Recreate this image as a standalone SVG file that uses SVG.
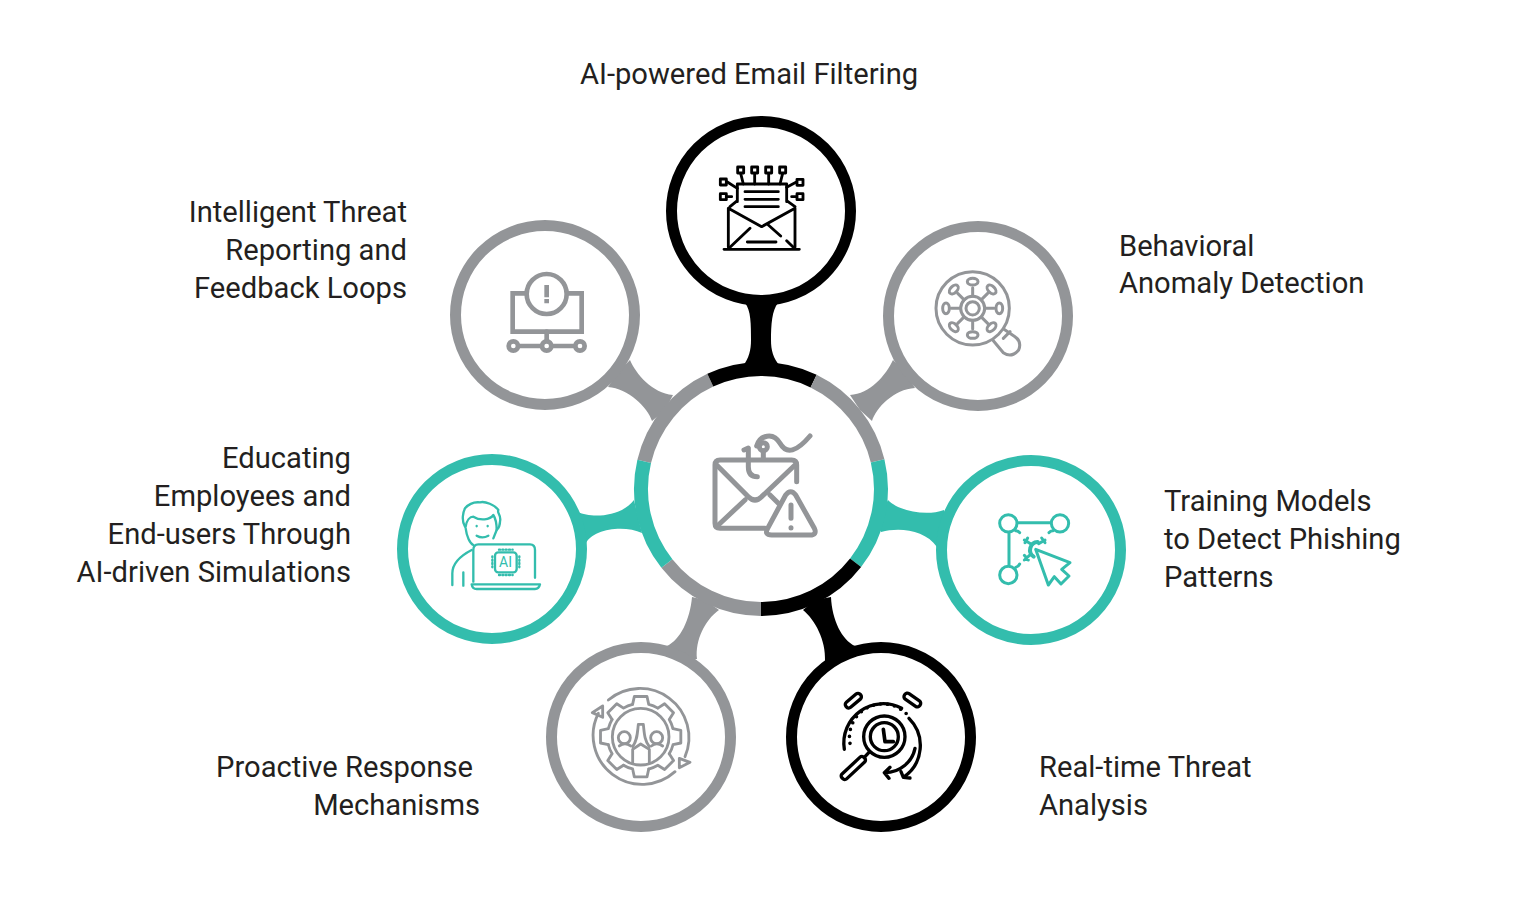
<svg xmlns="http://www.w3.org/2000/svg" xmlns:xlink="http://www.w3.org/1999/xlink" width="1521" height="902" viewBox="0 0 1521 902">
<style>
.bg{fill:#fff}
.lb{font-family:Roboto,"Liberation Sans",sans-serif;font-size:29.15px;fill:#231f20}
.e{text-anchor:end}
.ring{fill:#fff;stroke-width:11}
.seg{fill:none;stroke-width:14}
.k{stroke:#000}.g{stroke:#939598}.t{stroke:#33bdad}
.fk{fill:#000}.fg{fill:#939598}.ft{fill:#33bdad}
.ic{fill:none;stroke-linecap:round;stroke-linejoin:round}
.ic .w{fill:#fff}
</style>
<defs>
<path id="tooth" d="M97,-24.2L120.5,-19L120.5,19L97,24.2A100,100 0 0 1 85.7,51.5"/>
<ellipse id="spore" cx="80" cy="0" rx="10" ry="16"/>
</defs>
<rect class="bg" width="1521" height="902"/>
<g id="connectors">
<path class="fk" d="M745,298V303C751,310 751,325 751,340C751,350 749,358 743,366L780,366C773,358 771,350 771,340C771,325 772,310 778,303V298Z"/>
<path class="fg" d="M630,360C636,374 652,393 673,395L665,410L652,421C648,408 628,388 608,387L620,370Z"/>
<path class="fg" d="M893,360C886,375 870,394 850,395L860,410L872,421C876,408 894,389 915,388L905,372Z"/>
<path class="ft" d="M578,512C590,518 620,518 634,500L638,517L642,533C625,525 592,528 585,545L575,530Z"/>
<path class="ft" d="M888,500C897,510 925,517 944,510L950,530L937,547C925,530 900,527 881,532L880,515Z"/>
<path class="fg" d="M692,597C690,620 680,640 667,646L680,660L697,659C695,640 705,620 719,610L705,600Z"/>
<path class="fk" d="M803,610C815,620 826,640 825,661L840,660L855,646C842,640 832,620 831,597L815,600Z"/>
</g>
<g id="node-center">
<circle class="bg" cx="761" cy="489" r="114"/>
<path class="seg g" d="M644.2,461.4A120,120 0 0 1 710.3,380.2"/>
<path class="seg k" d="M710.3,380.2A120,120 0 0 1 813.6,381.1"/>
<path class="seg g" d="M813.6,381.1A120,120 0 0 1 877.6,460.8"/>
<path class="seg t" d="M877.6,460.8A120,120 0 0 1 855.6,562.8"/>
<path class="seg k" d="M855.6,562.8A120,120 0 0 1 761,609"/>
<path class="seg g" d="M761,609A120,120 0 0 1 666.9,563.5"/>
<path class="seg t" d="M666.9,563.5A120,120 0 0 1 644.2,461.4"/>
<g class="ic g" stroke-width="15" transform="translate(620,360) scale(.33333)">
<path d="M530,365V315Q530,300 515,300H300Q285,300 285,315V490Q285,505 300,505H435"/>
<path d="M290,315L385,410Q405,430 425,410L525,315M295,495L375,420M450,405L475,430"/>
<path d="M497,405Q512,385 527,405L583,505Q592,525 570,525H455Q432,525 443,505Z"/>
<path d="M513,435V475M513,503V504"/>
<path d="M372,270L385,264V320Q385,350 412,350"/>
<circle cx="430" cy="260" r="12"/>
<path d="M430,272V295M410,258C420,225 460,215 480,250C500,285 530,275 570,228"/>
</g>
</g>
<g id="node-email">
<circle class="ring k" cx="761" cy="211" r="89.5"/>
<g class="ic k" stroke-width="8.500" transform="translate(630,110) scale(.33333)">
<path d="M322,275V222H470V275M300,290L322,272M495,290L470,272"/>
<path d="M295,295V412M495,295V412M295,295L395,350L495,295"/>
<path d="M282,418H508M300,412L360,355M415,345L452,378M470,392L490,412"/>
<path d="M345,245H445M345,268H445M345,290H445M352,396H438"/>
<rect x="323" y="171" width="18" height="18"/><rect x="365" y="171" width="18" height="18"/><rect x="407" y="171" width="18" height="18"/><rect x="449" y="171" width="18" height="18"/>
<rect x="271" y="207" width="18" height="18"/><rect x="271" y="251" width="18" height="18"/><rect x="501" y="208" width="18" height="18"/><rect x="501" y="251" width="18" height="18"/>
<path d="M332,190L340,222M374,190V222M416,190V222M458,190L450,222M292,216L322,235M292,260H305M498,217L470,232M498,260H485"/>
</g>
<text class="lb" x="580" y="84">AI-powered Email Filtering</text>
</g>
<g id="node-reporting">
<circle class="ring g" cx="545" cy="315" r="89.5"/>
<g class="ic g" stroke-width="14" transform="translate(440,210) scale(.33333)">
<path stroke-linejoin="miter" d="M218,250H425V365H218Z"/>
<circle class="w" cx="320" cy="252" r="60"/>
<path stroke="none" fill="#939598" d="M313,225H327V262H313ZM313,267H327V280H313Z"/>
<path d="M320,365V395M235,408H400"/>
<circle class="w" cx="220" cy="408" r="14"/><circle class="w" cx="320" cy="408" r="14"/><circle class="w" cx="420" cy="408" r="14"/>
</g>
<text class="lb e" x="407" y="222">Intelligent Threat</text>
<text class="lb e" x="407" y="260">Reporting and</text>
<text class="lb e" x="407" y="298">Feedback Loops</text>
</g>
<g id="node-anomaly">
<circle class="ring g" cx="978" cy="316" r="89.5"/>
<g class="ic g" stroke-width="9" transform="translate(860,210) scale(.33333)">
<circle cx="338" cy="295" r="110"/>
<circle cx="338" cy="295" r="36"/><circle cx="338" cy="295" r="20"/>
<path d="M400,392L430,428Q455,445 476,420Q486,395 465,380L432,358M430,385L450,365"/>
<g transform="translate(338,295)">
<path d="M36,0H64M25.500,25.500L45,45M0,36V62M-25.500,25.500L-45,45M-36,0H-64M-25.500,-25.500L-45,-45M0,-36V-62M25.500,-25.500L45,-45"/>
<use xlink:href="#spore" href="#spore"/>
<use xlink:href="#spore" href="#spore" transform="rotate(45)"/>
<use xlink:href="#spore" href="#spore" transform="rotate(90)"/>
<use xlink:href="#spore" href="#spore" transform="rotate(135)"/>
<use xlink:href="#spore" href="#spore" transform="rotate(180)"/>
<use xlink:href="#spore" href="#spore" transform="rotate(225)"/>
<use xlink:href="#spore" href="#spore" transform="rotate(270)"/>
<use xlink:href="#spore" href="#spore" transform="rotate(315)"/>
</g>
</g>
<text class="lb" x="1119" y="256">Behavioral</text>
<text class="lb" x="1119" y="293">Anomaly Detection</text>
</g>
<g id="node-educating">
<circle class="ring t" cx="492" cy="549" r="89.5"/>
<g class="ic t" stroke-width="7" transform="translate(445,495) scale(.33333)">
<path d="M85,260V165Q85,148 100,148H255Q270,148 270,165V248"/>
<path d="M80,268H285Q282,282 270,282H95Q82,282 80,268Z"/>
<rect x="150" y="172" width="65" height="60" rx="10"/>
<path d="M142,184V220M223,184V220M162,164H203M162,240H203" stroke-dasharray="3 7"/>
<path d="M22,270V235Q22,195 80,165M55,232V272"/>
<path d="M60,95C48,75 55,50 60,40C70,28 85,20 105,22C120,18 150,30 160,45C155,55 170,60 165,80C165,90 160,100 155,105"/>
<path d="M62,95C65,75 75,65 85,65C105,78 135,75 145,60C155,75 155,90 155,105M62,100C65,125 75,145 85,150M155,105L145,130"/>
<path d="M95,122Q112,132 130,122M95,93V94M128,93V94"/>
</g>
<text x="505.500" y="567" text-anchor="middle" font-family="Roboto,'Liberation Sans',sans-serif" font-size="14" fill="#33bdad">AI</text>
<text class="lb e" x="351" y="468">Educating</text>
<text class="lb e" x="351" y="506">Employees and</text>
<text class="lb e" x="351" y="544">End-users Through</text>
<text class="lb e" x="351" y="582">AI-driven Simulations</text>
</g>
<g id="node-training">
<circle class="ring t" cx="1031" cy="550" r="89.5"/>
<g class="ic t" stroke-width="9" transform="translate(995,510) scale(.33333)">
<circle cx="40" cy="40" r="26"/><circle cx="195" cy="40" r="26"/><circle cx="40" cy="195" r="26"/>
<path d="M70,38H165M42,70V165"/>
<path d="M62,62Q70,62 74,68M174,62Q166,62 162,68M62,172Q70,170 74,162"/>
<path d="M88,90L108,102M98,84L90,98M150,90L131,101M140,84L150,98M88,150L106,134M88,136L100,150"/>
<path stroke-width="12" d="M116,140A24,24 0 0 1 128,96"/>
<path d="M122,118L225,158L200,178L222,198L198,222L178,200L160,225Z"/>
</g>
<text class="lb" x="1164" y="511">Training Models</text>
<text class="lb" x="1164" y="549">to Detect Phishing</text>
<text class="lb" x="1164" y="587">Patterns</text>
</g>
<g id="node-proactive">
<circle class="ring g" cx="641" cy="737" r="89.5"/>
<g class="ic g" stroke-width="8.500" transform="translate(540,600) scale(.33333)">
<path d="M205,300A147,147 0 0 1 435,470"/>
<path d="M405,515A147,147 0 0 1 175,340"/>
<path d="M418,475L450,487L418,503ZM188,318L157,338L188,352Z"/>
<g transform="translate(302,410)">
<use xlink:href="#tooth" href="#tooth"/>
<use xlink:href="#tooth" href="#tooth" transform="rotate(45)"/>
<use xlink:href="#tooth" href="#tooth" transform="rotate(90)"/>
<use xlink:href="#tooth" href="#tooth" transform="rotate(135)"/>
<use xlink:href="#tooth" href="#tooth" transform="rotate(180)"/>
<use xlink:href="#tooth" href="#tooth" transform="rotate(225)"/>
<use xlink:href="#tooth" href="#tooth" transform="rotate(270)"/>
<use xlink:href="#tooth" href="#tooth" transform="rotate(315)"/>
</g>
<circle cx="302" cy="410" r="85"/>
<path d="M295,373H310M295,373C292,400 292,420 278,440M310,373C313,400 313,420 328,440"/>
<path d="M278,490V448L302,432L328,448V490"/>
<circle cx="253" cy="413" r="18"/><circle cx="350" cy="413" r="18"/>
<path d="M238,438Q255,425 272,438M334,438Q350,425 368,438"/>
</g>
<text class="lb e" x="473" y="777">Proactive Response</text>
<text class="lb e" x="480" y="815">Mechanisms</text>
</g>
<g id="node-realtime">
<circle class="ring k" cx="881" cy="737" r="89.5"/>
<g class="ic k" stroke-width="10" transform="translate(835,690) scale(.33333)">
<rect x="27" y="22" width="56" height="20" rx="9" transform="rotate(-40 55 32)"/>
<rect x="204" y="20" width="56" height="20" rx="9" transform="rotate(35 232 30)"/>
<path d="M28,178A118,118 0 0 1 200,55"/>
<path stroke-width="11" stroke-dasharray="0 21" d="M45,160A100,100 0 0 1 215,72"/>
<path d="M222,85A115,115 0 0 1 205,262M198,245L205,262L225,264"/>
<path d="M240,175C232,215 195,248 150,248M165,232L148,248L162,265"/>
<circle cx="148" cy="140" r="62"/><circle cx="148" cy="140" r="42"/>
<path stroke-width="11" d="M145,118L150,155L175,155"/>
<path d="M104,185L90,200"/>
<rect x="10" y="224" width="90" height="20" rx="8" transform="rotate(-43 55 234)"/>
</g>
<text class="lb" x="1039" y="777">Real-time Threat</text>
<text class="lb" x="1039" y="815">Analysis</text>
</g>
</svg>
